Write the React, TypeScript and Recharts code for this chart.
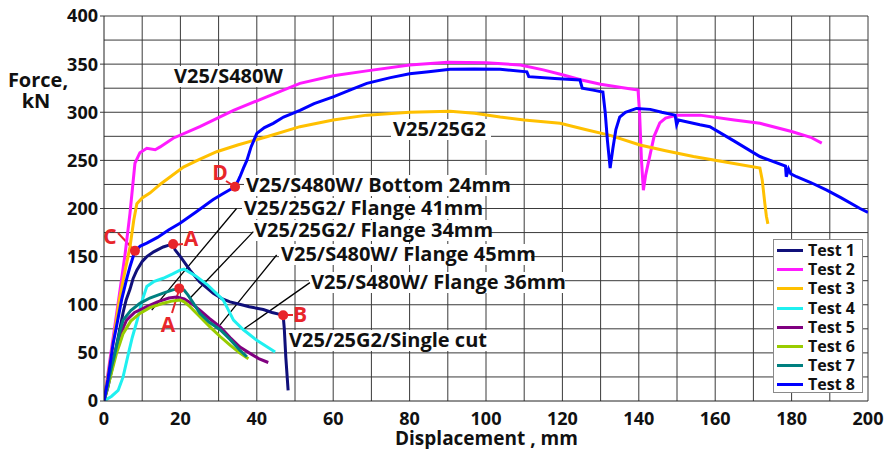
import React from 'react';
import {
  LineChart,
  Line,
  XAxis,
  YAxis,
  CartesianGrid,
  Legend,
  ReferenceLine,
  ReferenceDot,
  Customized,
} from 'recharts';

// displacement (mm), force (kN) pairs
const test1: [number, number][] = [
  [0, 0], [1, 14], [2, 32], [3, 52], [4, 72], [5, 92], [5.8, 105], [6.8, 116], [7.6, 127], [8.6, 136],
  [10, 145], [11.2, 150], [13, 155], [15.5, 160], [17, 162], [18.1, 163], [18.6, 157], [20, 150],
  [22.5, 136], [25, 124], [28.6, 112], [31, 106], [33, 103], [36, 100], [38, 98], [41.7, 95],
  [44, 92], [46, 90], [46.9, 89], [47.2, 75], [47.6, 45], [48.2, 11],
];
const test2: [number, number][] = [
  [0, 0], [2, 55], [4, 110], [5.5, 152], [6.8, 195], [8.1, 247], [9.4, 258], [11.2, 262.5],
  [13.4, 261], [14.7, 264], [18.1, 273], [25.1, 285], [33.9, 302], [42.6, 316], [51.3, 330],
  [60, 338], [68.8, 343], [80, 349], [90, 352], [100, 351.5], [109, 349], [115, 344], [120, 339],
  [125, 333.5], [130, 329], [135, 326], [139.8, 323], [140.2, 300], [140.7, 250], [141.2, 219],
  [141.8, 235], [142.9, 255], [144, 275], [145.5, 289], [147, 294], [150, 297], [156, 297],
  [165, 292], [171.7, 288.5], [180, 280], [185, 274], [187.9, 268],
];
const test3: [number, number][] = [
  [0, 0], [2, 50], [4, 105], [5.5, 135], [6.8, 160], [7.8, 188], [8.6, 205], [10, 211], [12, 216],
  [15, 226], [20.8, 243], [25, 251], [29.5, 259], [35, 266], [42.6, 274.6], [51.3, 285], [60, 292],
  [68.8, 297], [80, 300], [90.6, 301], [97, 299], [103.7, 295], [110, 292], [119.4, 288.5],
  [126, 282], [132.5, 276], [140.3, 266], [147, 260], [154.3, 254], [163, 248], [171.7, 242],
  [172.3, 230], [173, 205], [173.4, 192], [173.8, 184],
];
const test4: [number, number][] = [
  [0, 0], [2, 5], [3.7, 11], [5, 25], [6.4, 49.5], [7.4, 66], [8.7, 84], [9.8, 102], [11.2, 119],
  [13, 124], [15.5, 127.5], [18, 132], [19.9, 136], [21, 137], [24, 130], [27, 121], [31.2, 105],
  [33.9, 84], [36.5, 74], [40, 63], [44.8, 51],
];
const test5: [number, number][] = [
  [0, 0], [1, 18], [2, 35], [3, 52], [4, 66], [5, 76], [5.9, 84], [8, 92], [11.2, 98], [14, 103],
  [17, 107], [19, 108], [21, 106], [23, 101], [25.1, 94.5], [27.5, 86], [30.4, 77], [33, 66],
  [35.6, 56], [38, 50], [40.5, 44], [43, 40],
];
const test6: [number, number][] = [
  [0, 0], [1, 15], [2, 30], [3.3, 50], [4, 58], [5, 70], [7, 83], [9.4, 91], [12, 97],
  [15.5, 101.5], [18, 104], [19.9, 105], [21, 103], [22.5, 98], [24, 92], [26, 84], [28, 76],
  [30.4, 67], [33, 58], [35.5, 50], [37.8, 44],
];
const test7: [number, number][] = [
  [0, 0], [1, 18], [2, 36], [2.9, 50], [4, 70], [5, 84], [7, 94], [9.4, 101.5], [12, 107],
  [15.5, 112], [18, 115.5], [19.9, 117], [21, 115], [22, 110], [23.5, 101], [25.1, 91],
  [27.5, 82], [30.4, 74], [33, 64], [35.5, 53], [37.4, 46],
];
const test8: [number, number][] = [
  [0, 0], [1, 22], [2.4, 60], [3.5, 82], [4.6, 105], [6, 128], [6.8, 139.5], [8.1, 156],
  [9.5, 161], [11.2, 164], [14, 170], [17, 178], [19.9, 184.6], [24, 196], [28.5, 209], [31, 215],
  [34.3, 222.6], [35, 228], [35.6, 233], [36.5, 242], [37.4, 250], [38.5, 264], [40, 278],
  [42, 284], [44.3, 288.5], [47, 295], [51.3, 302], [55, 309], [60, 316], [65, 324], [68.8, 330],
  [75, 336], [80, 340], [85, 342], [90.6, 344.6], [97, 345], [103.7, 344.6], [110.7, 342],
  [111.2, 337], [118, 335], [124.6, 333.5], [125.2, 325], [128, 323], [130.6, 321], [131.2, 300],
  [131.8, 270], [132.5, 242], [133.2, 262], [134, 282], [135, 295], [136.5, 300], [139.4, 304],
  [143, 303], [146, 300], [149.5, 297], [149.9, 287], [150.4, 292], [156, 287], [158.6, 285],
  [165, 270], [171.7, 254], [178.4, 244], [178.6, 233], [179.2, 241], [179.8, 236], [181.3, 233],
  [185, 227], [189.2, 219], [193, 211], [197.9, 200], [200, 196],
];

const seriesNames = ['Test 1', 'Test 2', 'Test 3', 'Test 4', 'Test 5', 'Test 6', 'Test 7', 'Test 8'];
const seriesColors = ['#10107a', '#ff1aff', '#ffc000', '#1ff0f0', '#800080', '#99cc00', '#008080', '#0000ff'];
const seriesData = [test1, test2, test3, test4, test5, test6, test7, test8];

const xTicks = [0, 20, 40, 60, 80, 100, 120, 140, 160, 180, 200];
const yTicks = [0, 50, 100, 150, 200, 250, 300, 350, 400];
const xGrid = [10, 20, 30, 40, 50, 60, 70, 80, 90, 100, 110, 120, 130, 140, 150, 160, 170, 180, 190, 200];
const yGrid = [25, 50, 75, 100, 125, 150, 175, 200, 225, 250, 275, 300, 325, 350, 375, 400];

// marked points A, B, C, D
const markPoints: [number, number][] = [[18.1, 163], [19.7, 117], [46.9, 89], [8.1, 156], [34.3, 222.6]];

// leader lines from labels to curves
const leaders: [number, number, number, number][] = [
  [34.7, 200, 12.5, 94.5],
  [39.1, 176, 22.5, 106.7],
  [45.2, 151.7, 30.4, 79],
  [53.9, 123, 36.5, 74.5],
];

// labels: text, left x, baseline y, box width
const notes: [string, number, number, number][] = [
  ['V25/S480W', 174, 83, 112],
  ['V25/25G2', 393, 136, 100],
  ['V25/S480W/ Bottom 24mm', 246, 192, 260],
  ['V25/25G2/ Flange 41mm', 244, 215, 236],
  ['V25/25G2/ Flange 34mm', 254, 237, 238],
  ['V25/S480W/ Flange 45mm', 281, 261, 252],
  ['V25/S480W/ Flange 36mm', 311, 289, 256],
  ['V25/25G2/Single cut', 289, 347, 206],
];

const redMarks: [string, number, number][] = [
  ['A', 191, 246], ['A', 168, 332], ['B', 300, 322], ['C', 110, 244], ['D', 220, 180],
];
const redStubs: [number, number, number, number][] = [
  [173, 245, 183, 244], [179, 290, 172, 313], [283, 315, 293, 315], [118, 233, 134, 250], [226, 181, 234, 186],
];

const FONT = '"Open Sans", sans-serif';

const Notes = () => (
  <g fontFamily={FONT} fontWeight={700}>
    {notes.map(([t, x, y, w], i) => (
      <g key={i}>
        <rect x={x - 2} y={y - 17} width={w} height={21} fill="#fff" />
        <text x={x} y={y} fontSize={20} fill="#111">{t}</text>
      </g>
    ))}
    {redStubs.map(([x1, y1, x2, y2], i) => (
      <line key={'s' + i} x1={x1} y1={y1} x2={x2} y2={y2} stroke="#e8262b" strokeWidth={2} />
    ))}
    {redMarks.map(([t, x, y], i) => (
      <text key={'m' + i} x={x} y={y} fontSize={21} fill="#e8262b" textAnchor="middle">{t}</text>
    ))}
    <text x={38} y={87} fontSize={20} fill="#111" textAnchor="middle">Force,</text>
    <text x={36} y={108} fontSize={20} fill="#111" textAnchor="middle">kN</text>
    <text x={395} y={445} fontSize={19} fill="#111">Displacement , mm</text>
  </g>
);

const LegendBox = () => (
  <div
    style={{
      width: 88,
      height: 152,
      border: '1px solid #8a8a8a',
      background: '#fff',
      boxSizing: 'content-box',
      fontFamily: FONT,
      fontWeight: 700,
      fontSize: 16,
      color: '#111',
    }}
  >
    {seriesNames.map((n, i) => (
      <div key={n} style={{ display: 'flex', alignItems: 'center', height: 19.2, marginTop: i === 0 ? 1 : 0 }}>
        <span style={{ display: 'inline-block', width: 26, height: 3, background: seriesColors[i], marginLeft: 3, marginRight: 5 }} />
        <span style={{ lineHeight: '19px' }}>{n}</span>
      </div>
    ))}
  </div>
);

const gridX = ({ offset }: any) => xGrid.map((v) => offset.left + (offset.width * v) / 200);
const gridY = ({ offset }: any) => yGrid.map((v) => offset.top + offset.height * (1 - v / 400));

export default function App() {
  return (
    <div style={{ position: 'absolute', left: 0, top: 0, width: 886, height: 449, background: '#fff' }}>
      <LineChart width={886} height={449} margin={{ top: 16, right: 18, bottom: 0, left: 0 }}>
        <CartesianGrid
          stroke="#3a3a3a"
          strokeWidth={1}
          verticalCoordinatesGenerator={gridX}
          horizontalCoordinatesGenerator={gridY}
        />
        <XAxis
          type="number"
          dataKey="x"
          domain={[0, 200]}
          ticks={xTicks}
          height={48}
          tickLine={false}
          tickSize={4}
          tickMargin={7}
          axisLine={{ stroke: '#222' }}
          tick={{ fontFamily: FONT, fontWeight: 700, fontSize: 18, fill: '#111' }}
          allowDataOverflow
        />
        <YAxis
          type="number"
          domain={[0, 400]}
          ticks={yTicks}
          width={104}
          tickSize={4}
          tickMargin={2}
          tickLine={{ stroke: '#3a3a3a' }}
          axisLine={{ stroke: '#222' }}
          tick={{ fontFamily: FONT, fontWeight: 700, fontSize: 18, fill: '#111' }}
          allowDataOverflow
        />
        <Legend
          layout="horizontal"
          verticalAlign="middle"
          align="center"
          content={() => <LegendBox />}
          wrapperStyle={{ position: 'absolute', left: 773, top: 239, width: 90, height: 154 }}
        />
        {leaders.map(([x1, y1, x2, y2], i) => (
          <ReferenceLine
            key={'l' + i}
            segment={[{ x: x1, y: y1 }, { x: x2, y: y2 }]}
            stroke="#000"
            strokeWidth={1.3}
          />
        ))}
        {seriesData.map((d, i) => (
          <Line
            key={seriesNames[i]}
            name={seriesNames[i]}
            data={d.map(([x, y]) => ({ x, y }))}
            dataKey="y"
            type="linear"
            stroke={seriesColors[i]}
            strokeWidth={3}
            dot={false}
            activeDot={false}
            isAnimationActive={false}
          />
        ))}
        <Customized component={Notes} />
        {markPoints.map(([x, y], i) => (
          <ReferenceDot key={'p' + i} x={x} y={y} r={5} fill="#e8262b" stroke="none" />
        ))}
      </LineChart>
    </div>
  );
}
